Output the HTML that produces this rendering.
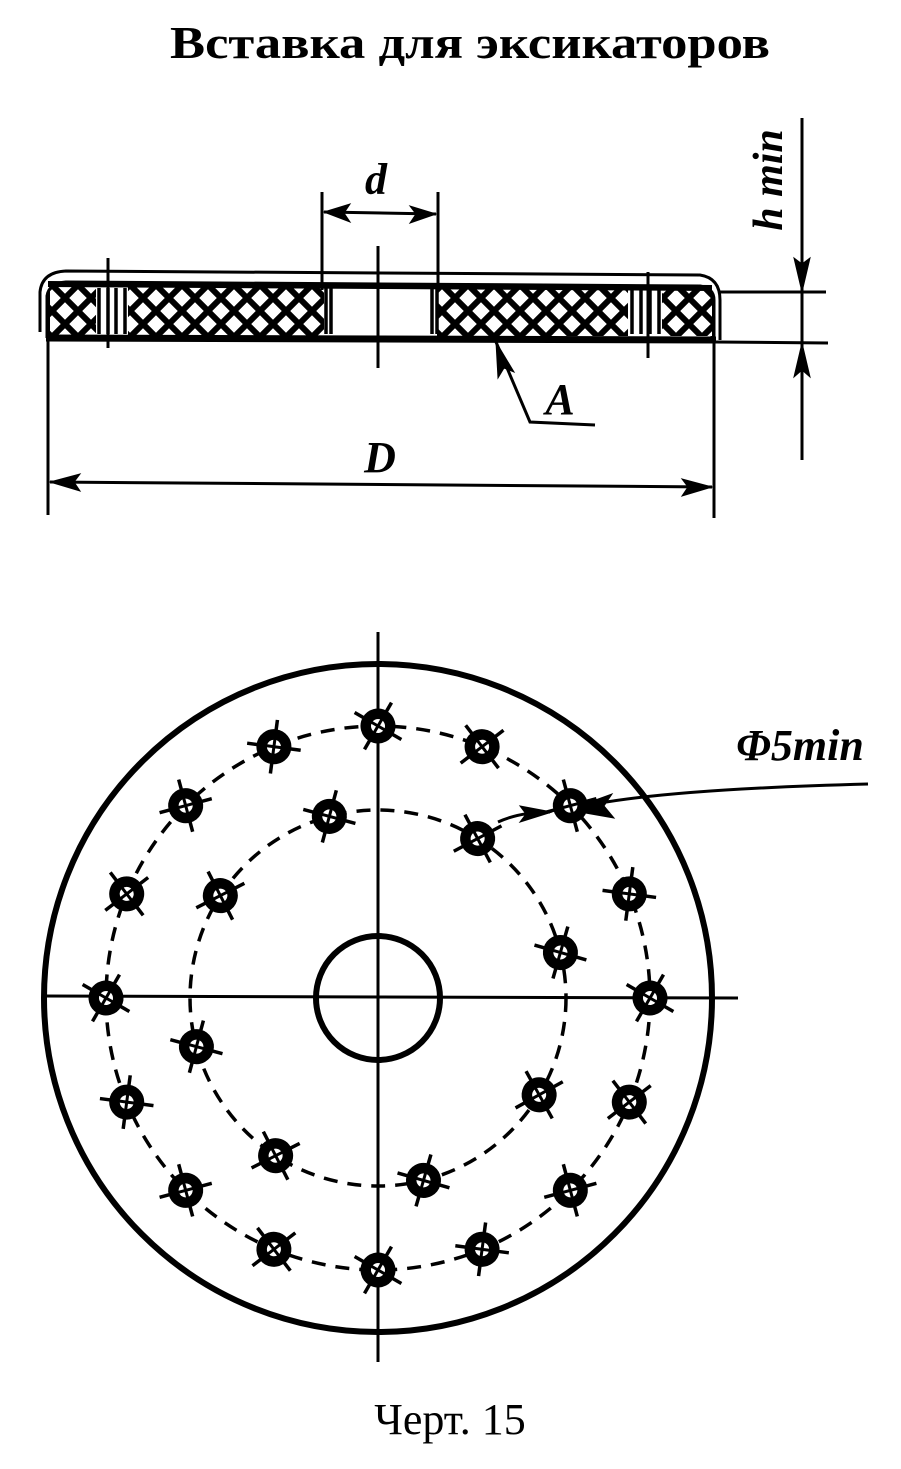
<!DOCTYPE html>
<html><head><meta charset="utf-8"><style>
html,body{margin:0;padding:0;background:#fff;}
svg{display:block;}
</style></head><body>
<svg width="901" height="1469" viewBox="0 0 901 1469" xmlns="http://www.w3.org/2000/svg">
<defs>
<pattern id="hx" width="26" height="26" patternUnits="userSpaceOnUse" patternTransform="translate(0,285)">
<rect width="26" height="26" fill="#fff"/>
<path d="M0,0L26,26M26,0L0,26" stroke="#000" stroke-width="6"/>
</pattern>
</defs>
<text x="470" y="58" text-anchor="middle" font-family="Liberation Serif, serif" font-weight="bold" font-size="46" textLength="600" lengthAdjust="spacingAndGlyphs">Вставка для эксикаторов</text>

<!-- cross-section -->
<g stroke="#000" fill="none">
<path d="M40,332 L40,292 Q42,272 66,271 L700,275 Q720,278 720,300 L720,340" stroke-width="3"/>
<path d="M48,338 L48,296 Q50,284 66,283 L700,287 Q713,289 713,300 L713,338" stroke-width="5"/>
<rect x="50" y="286" width="274" height="50" fill="url(#hx)" stroke="none"/>
<rect x="437" y="286" width="275" height="50" fill="url(#hx)" stroke="none"/>
<rect x="96" y="286" width="32" height="50" fill="#fff" stroke="none"/>
<rect x="628" y="286" width="34" height="50" fill="#fff" stroke="none"/>
<rect x="324" y="286" width="113" height="50" fill="#fff" stroke="none"/>
<g stroke-width="3.5">
<path d="M99,288V334M108,288V334M116,288V334M125,288V334"/>
<path d="M632,288V334M641,288V334M650,288V334M659,288V334"/>
<path d="M326,288V334M331,288V334M432,288V334M437,288V334"/>
</g>
<line x1="46" y1="338" x2="716" y2="340" stroke-width="7"/>
<line x1="48" y1="284" x2="712" y2="288" stroke-width="6"/>
<line x1="108" y1="258" x2="108" y2="348" stroke-width="3"/>
<line x1="648" y1="272" x2="648" y2="358" stroke-width="3"/>
<line x1="378" y1="246" x2="378" y2="368" stroke-width="3"/>
<line x1="322" y1="192" x2="322" y2="290" stroke-width="3"/>
<line x1="438" y1="192" x2="438" y2="290" stroke-width="3"/>
<line x1="324" y1="212" x2="436" y2="214" stroke-width="3"/>
<path d="M324,212L350,204L344,213L350,222Z M436,214L410,206L416,214L410,223Z" fill="#000" stroke-width="1"/>
<line x1="48" y1="338" x2="48" y2="515" stroke-width="3"/>
<line x1="714" y1="340" x2="714" y2="518" stroke-width="3"/>
<line x1="50" y1="482" x2="712" y2="487" stroke-width="3"/>
<path d="M50,482L80,474L74,482L80,491Z M712,487L682,479L688,487L682,496Z" fill="#000" stroke-width="1"/>
<line x1="718" y1="292" x2="826" y2="292" stroke-width="3"/>
<line x1="716" y1="342" x2="828" y2="343" stroke-width="3"/>
<line x1="802" y1="118" x2="802" y2="460" stroke-width="3"/>
<path d="M802,292L794,258L802,264L810,258Z M802,343L794,377L802,370L810,377Z" fill="#000" stroke-width="1"/>
<path d="M496,342 L530,422 L595,425" stroke-width="3"/>
<path d="M496,342L498,378L504,368L514,372Z" fill="#000" stroke-width="1"/>
</g>
<text x="376" y="194" text-anchor="middle" font-family="Liberation Serif, serif" font-style="italic" font-weight="bold" font-size="44">d</text>
<text x="560" y="414" text-anchor="middle" font-family="Liberation Serif, serif" font-style="italic" font-weight="bold" font-size="44">A</text>
<text x="380" y="472" text-anchor="middle" font-family="Liberation Serif, serif" font-style="italic" font-weight="bold" font-size="44">D</text>
<text transform="translate(782,180) rotate(-90)" text-anchor="middle" font-family="Liberation Serif, serif" font-style="italic" font-weight="bold" font-size="42">h min</text>

<!-- plan view -->
<g stroke="#000" fill="none">
<circle cx="378" cy="998" r="334" stroke-width="6"/>
<circle cx="378" cy="998" r="272" stroke-width="3.5" stroke-dasharray="14,10"/>
<circle cx="378" cy="998" r="188" stroke-width="3.5" stroke-dasharray="14,10"/>
<circle cx="378" cy="998" r="62" stroke-width="6"/>
<line x1="378" y1="632" x2="378" y2="1362" stroke-width="3"/>
<line x1="42" y1="996" x2="738" y2="998" stroke-width="3"/>
<path d="M568,810 Q640,790 868,784" stroke-width="3"/>
<path d="M568,810L612,794L604,806L614,818Z" fill="#000" stroke-width="1"/>
<path d="M498,822 Q520,812 550,812" stroke-width="3"/>
<path d="M552,812L520,806L526,814L520,822Z" fill="#000" stroke-width="1"/>
</g>
<g stroke="#000">
<g transform="translate(378,998)">
<g id="h1"><g transform="translate(0,-272) rotate(30)"><line x1="-27" y1="0" x2="27" y2="0" stroke-width="3.5"/><line x1="0" y1="-27" x2="0" y2="27" stroke-width="3.5"/><circle r="17" fill="#000"/><circle r="7" fill="#fff" stroke="none"/><path d="M-8,0H8M0,-8V8" stroke="#000" stroke-width="3"/></g></g>
<use href="#h1" transform="rotate(22.5)"/><use href="#h1" transform="rotate(45)"/><use href="#h1" transform="rotate(67.5)"/>
<use href="#h1" transform="rotate(90)"/><use href="#h1" transform="rotate(112.5)"/><use href="#h1" transform="rotate(135)"/>
<use href="#h1" transform="rotate(157.5)"/><use href="#h1" transform="rotate(180)"/><use href="#h1" transform="rotate(202.5)"/>
<use href="#h1" transform="rotate(225)"/><use href="#h1" transform="rotate(247.5)"/><use href="#h1" transform="rotate(270)"/>
<use href="#h1" transform="rotate(292.5)"/><use href="#h1" transform="rotate(315)"/><use href="#h1" transform="rotate(337.5)"/>
<g id="h2"><g transform="rotate(-15) translate(0,-188) rotate(30)"><line x1="-27" y1="0" x2="27" y2="0" stroke-width="3.5"/><line x1="0" y1="-27" x2="0" y2="27" stroke-width="3.5"/><circle r="17" fill="#000"/><circle r="7" fill="#fff" stroke="none"/><path d="M-8,0H8M0,-8V8" stroke="#000" stroke-width="3"/></g></g>
<use href="#h2" transform="rotate(47)"/><use href="#h2" transform="rotate(91)"/><use href="#h2" transform="rotate(136)"/>
<use href="#h2" transform="rotate(181)"/><use href="#h2" transform="rotate(228)"/><use href="#h2" transform="rotate(270)"/><use href="#h2" transform="rotate(318)"/>
</g>
</g>
<text x="800" y="760" text-anchor="middle" font-family="Liberation Serif, serif" font-style="italic" font-weight="bold" font-size="44">Φ5min</text>
<text x="450" y="1434" text-anchor="middle" font-family="Liberation Serif, serif" font-size="44">Черт. 15</text>
</svg>
</body></html>
